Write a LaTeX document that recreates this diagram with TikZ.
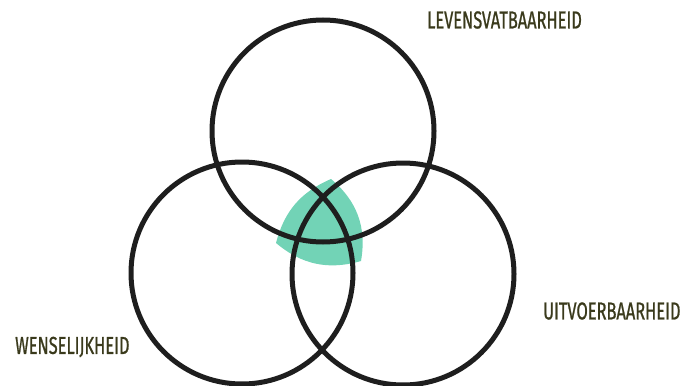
\documentclass[tikz,border=0pt]{standalone}
\usepackage{fontspec}
\setmainfont{Fira Sans}[FakeStretch=0.67, FakeBold=0.8]
\definecolor{vGreen}{HTML}{72D3B6}
\definecolor{vInk}{HTML}{1E1E1E}
\definecolor{vLabel}{HTML}{3A3A1C}

\begin{document}
\begin{tikzpicture}[x=1pt, y=-1pt,
  ring/.style={circle, draw=vInk, line width=5pt, minimum size=222pt, inner sep=0pt},
  lbl/.style={font=\fontsize{24.5}{24.5}\selectfont, text=vLabel, inner sep=0pt, anchor=west},
]
  \useasboundingbox (0,0) rectangle (684,385);
  % shared part of the three rings
  \coordinate (gTop) at (331,179);
  \coordinate (gLeft) at (276,243);
  \coordinate (gRight) at (361,261);
  \fill[vGreen] (gTop) to[bend right=26] (gLeft) to[bend right=28] (gRight)
    to[bend right=30] (gTop) -- cycle;
  % rings
  \node[ring] (viable) at (323,131) {};
  \node[ring] (desire) at (242,273) {};
  \node[ring] (feasible) at (403,274) {};
  % labels
  \node[lbl] (viableLbl) at (427,20) {LEVENSVATBAARHEID};
  \node[lbl] (feasibleLbl) at (543,311) {UITVOERBAARHEID};
  \node[lbl] (desireLbl) at (15,347) {WENSELIJKHEID};
\end{tikzpicture}
\end{document}
